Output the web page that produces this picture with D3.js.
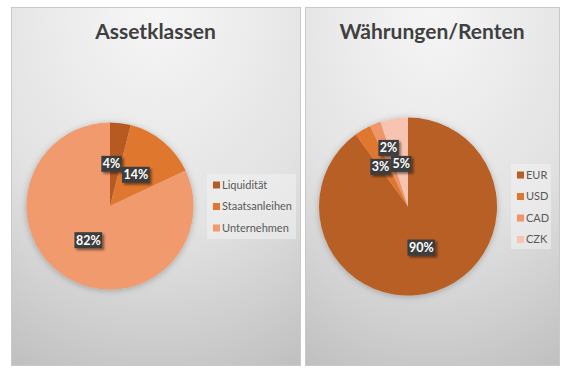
<!DOCTYPE html>
<html>
<head>
<meta charset="utf-8">
<script src="https://cdn.jsdelivr.net/npm/d3@7"></script>
<style>
  body { margin: 0; background: #fff; }
  svg { display: block; font-family: Lato, "Open Sans", sans-serif; }
</style>
</head>
<body>
<svg id="chart"></svg>
<script>
// chart data
const assetCategories = ["Liquidität", "Staatsanleihen", "Unternehmen"];
const assetValues = [4, 14, 82];
const assetColors = ["#b65a23", "#e0772f", "#f09a6e"];

const currencyCategories = ["EUR", "USD", "CAD", "CZK"];
const currencyValues = [90, 3, 2, 5];
const currencyColors = ["#b85f25", "#e0772f", "#f0956b", "#f6c4b1"];

const width = 570, height = 377;

const svg = d3.select("#chart")
  .attr("width", width)
  .attr("height", height);

const defs = svg.append("defs");

// panel background gradient
const grad = defs.append("radialGradient")
  .attr("id", "panelBg")
  .attr("cx", "50%").attr("cy", "0%").attr("r", "115%")
  .attr("gradientUnits", "objectBoundingBox");
grad.append("stop").attr("offset", "0%").attr("stop-color", "#f6f6f6");
grad.append("stop").attr("offset", "55%").attr("stop-color", "#e2e2e2");
grad.append("stop").attr("offset", "100%").attr("stop-color", "#bdbdbd");

// soft shadow for the pie
const pieShadow = defs.append("filter").attr("id", "pieShadow")
  .attr("x", "-20%").attr("y", "-20%").attr("width", "140%").attr("height", "140%");
pieShadow.append("feDropShadow")
  .attr("dx", 0).attr("dy", 1).attr("stdDeviation", 3)
  .attr("flood-color", "#000").attr("flood-opacity", 0.25);

// shadow for label boxes
const boxShadow = defs.append("filter").attr("id", "boxShadow")
  .attr("x", "-30%").attr("y", "-30%").attr("width", "170%").attr("height", "180%");
boxShadow.append("feDropShadow")
  .attr("dx", 2).attr("dy", 2).attr("stdDeviation", 1.2)
  .attr("flood-color", "#000").attr("flood-opacity", 0.45);

function overlaps(a, b, gap) {
  return Math.abs(a.x - b.x) < (a.w + b.w) / 2 + gap &&
         Math.abs(a.y - b.y) < (a.h + b.h) / 2 + gap;
}

function drawPanel(opts) {
  const { x0, y0, w, h, title, categories, values, colors, cx, cy, r, legend } = opts;
  const g = svg.append("g");

  g.append("rect")
    .attr("x", x0 + 0.5).attr("y", y0 + 0.5)
    .attr("width", w).attr("height", h)
    .attr("fill", "url(#panelBg)")
    .attr("stroke", "#c9c9c9");

  g.append("text")
    .attr("x", x0 + w / 2).attr("y", y0 + 32)
    .attr("text-anchor", "middle")
    .attr("font-size", 21)
    .attr("font-weight", "bold")
    .attr("fill", "#404040")
    .text(title);

  const data = categories.map((c, i) => ({ name: c, value: values[i], color: colors[i] }));
  const pie = d3.pie().sort(null).value(d => d.value);
  const arcs = pie(data);
  const arc = d3.arc().innerRadius(0).outerRadius(r);

  const pg = g.append("g").attr("transform", `translate(${cx},${cy})`);
  pg.append("g").attr("filter", "url(#pieShadow)")
    .selectAll("path")
    .data(arcs)
    .join("path")
    .attr("d", arc)
    .attr("fill", d => d.data.color);

  // data labels at about half the radius
  const labelArc = d3.arc().innerRadius(r * 0.97).outerRadius(0);
  const lg = pg.append("g").selectAll("g")
    .data(arcs)
    .join("g");
  const rects = lg.append("rect")
    .attr("fill", "#3d3d3d")
    .attr("filter", "url(#boxShadow)");
  const texts = lg.append("text")
    .attr("text-anchor", "middle")
    .attr("dy", "0.36em")
    .attr("font-size", 12.5)
    .attr("font-weight", "bold")
    .attr("fill", "#fff")
    .text(d => d3.format(".0f")(d.data.value) + "%");

  const labels = arcs.map((d, i) => {
    const [lx, ly] = labelArc.centroid(d);
    const tw = texts.nodes()[i].getComputedTextLength();
    return { x: lx, y: ly, w: tw + 3, h: 16, v: d.data.value };
  });

  // best fit: bigger slices keep their spot, smaller labels move to a
  // near free spot, preferring to move outward rather than inward
  const placed = [];
  const order = labels.slice().sort((a, b) => b.v - a.v);
  for (const L of order) {
    const len = Math.hypot(L.x, L.y) || 1;
    const ux = L.x / len, uy = L.y / len;
    const cands = [];
    for (let dx = -40; dx <= 40; dx += 0.5)
      for (let dy = -40; dy <= 40; dy += 0.5) {
        const d = Math.hypot(dx, dy);
        cands.push([dx, dy, d - 0.5 * (dx * ux + dy * uy)]);
      }
    cands.sort((a, b) => a[2] - b[2]);
    for (const [dx, dy] of cands) {
      const t = { x: L.x + dx, y: L.y + dy, w: L.w, h: L.h };
      if (!placed.some(p => overlaps(t, p, 0))) {
        L.x = t.x; L.y = t.y;
        break;
      }
    }
    placed.push(L);
  }

  lg.attr("transform", (d, i) => `translate(${labels[i].x},${labels[i].y})`);
  rects
    .attr("x", (d, i) => -labels[i].w / 2).attr("y", (d, i) => -labels[i].h / 2)
    .attr("width", (d, i) => labels[i].w).attr("height", (d, i) => labels[i].h);

  // legend
  const lgd = g.append("g").attr("transform", `translate(${legend.x},${legend.y})`);
  lgd.append("rect")
    .attr("width", legend.w).attr("height", legend.h)
    .attr("fill", "#f2f2f2").attr("opacity", 0.55);
  const items = lgd.selectAll("g.item")
    .data(data)
    .join("g")
    .attr("class", "item")
    .attr("transform", (d, i) => `translate(6,${11 + i * legend.step})`);
  items.append("rect")
    .attr("x", 0).attr("y", -3.5)
    .attr("width", 7).attr("height", 7)
    .attr("fill", d => d.color);
  items.append("text")
    .attr("x", 9).attr("dy", "0.35em")
    .attr("font-size", 11)
    .attr("fill", "#595959")
    .text(d => d.name);
}

drawPanel({
  x0: 11, y0: 7, w: 289, h: 358,
  title: "Assetklassen",
  categories: assetCategories, values: assetValues, colors: assetColors,
  cx: 110, cy: 206, r: 83.5,
  legend: { x: 207, y: 174, w: 89, h: 65, step: 21.5 }
});

drawPanel({
  x0: 305, y0: 7, w: 254, h: 358,
  title: "Währungen/Renten",
  categories: currencyCategories, values: currencyValues, colors: currencyColors,
  cx: 408, cy: 206.5, r: 89,
  legend: { x: 511, y: 164, w: 40, h: 85, step: 21.5 }
});
</script>
</body>
</html>
